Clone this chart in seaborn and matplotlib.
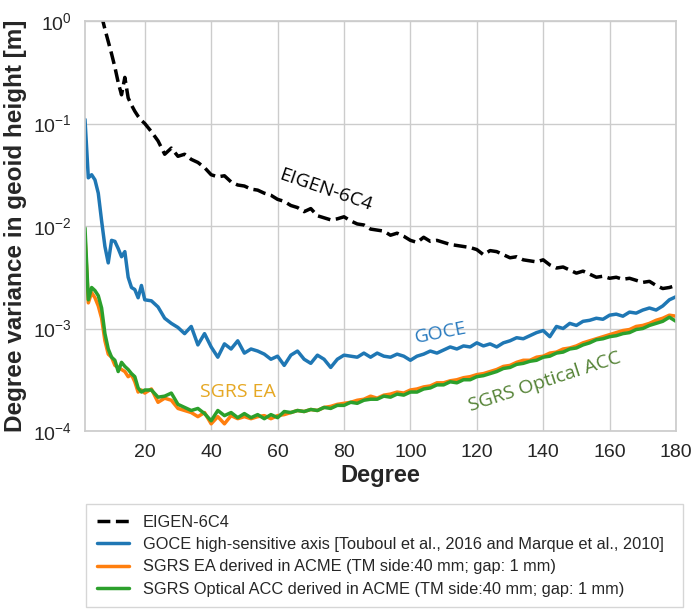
import numpy as np
import pandas as pd
import matplotlib
matplotlib.use("Agg")
import matplotlib.pyplot as plt
import seaborn as sns

# spherical harmonic degree (x axis)
degree = list(range(2, 21)) + list(range(22, 181, 2))

# log10 of degree variance [m]
eigen_log = [np.nan, np.nan, np.nan, np.nan, np.nan,
             0.05, -0.08, -0.20, -0.32, -0.45, -0.60, -0.72, -0.55, -0.75, -0.82, -0.88, -0.93, -0.97, -1.00,
             -1.08, -1.17, -1.30, -1.24, -1.32, -1.30, -1.35, -1.38, -1.43, -1.50,
             -1.52, -1.51, -1.57, -1.60, -1.61, -1.64, -1.65, -1.68, -1.70, -1.74,
             -1.76, -1.80, -1.82, -1.86, -1.83, -1.90, -1.92, -1.94, -1.93, -1.91,
             -1.95, -1.98, -1.99, -2.03, -2.04, -2.05, -2.09, -2.07, -2.10, -2.14,
             -2.16, -2.11, -2.15, -2.14, -2.16, -2.18, -2.19, -2.20, -2.21, -2.23,
             -2.28, -2.24, -2.25, -2.28, -2.31, -2.30, -2.33, -2.34, -2.35, -2.33,
             -2.38, -2.41, -2.40, -2.43, -2.46, -2.44, -2.47, -2.50, -2.49, -2.51,
             -2.50, -2.52, -2.51, -2.53, -2.55, -2.54, -2.58, -2.61, -2.60, -2.58]

goce_log = [-0.96, -1.53, -1.50, -1.55, -1.68, -1.95, -2.20, -2.36, -2.14, -2.15,
            -2.22, -2.30, -2.25, -2.50, -2.60, -2.62, -2.70, -2.58, -2.72,
            -2.73, -2.79, -2.90, -2.95, -2.99, -3.05, -2.98, -3.16, -3.05, -3.18,
            -3.28, -3.15, -3.20, -3.12, -3.24, -3.20, -3.22, -3.25, -3.30, -3.27,
            -3.36, -3.26, -3.22, -3.30, -3.34, -3.26, -3.30, -3.38, -3.30, -3.26,
            -3.27, -3.28, -3.24, -3.28, -3.24, -3.27, -3.28, -3.25, -3.27, -3.31,
            -3.27, -3.25, -3.22, -3.24, -3.21, -3.18, -3.20, -3.17, -3.18, -3.14,
            -3.17, -3.15, -3.18, -3.14, -3.12, -3.09, -3.10, -3.07, -3.04, -3.02,
            -3.08, -2.98, -3.00, -2.95, -2.97, -2.93, -2.92, -2.90, -2.91, -2.87,
            -2.86, -2.88, -2.84, -2.85, -2.82, -2.80, -2.82, -2.78, -2.72, -2.69]

ea_log = [-2.10, -2.75, -2.65, -2.70, -2.78, -2.90, -3.12, -3.25, -3.28, -3.36,
          -3.38, -3.40, -3.42, -3.47, -3.45, -3.52, -3.62, -3.60, -3.63,
          -3.59, -3.72, -3.68, -3.70, -3.78, -3.80, -3.82, -3.86, -3.82, -3.93,
          -3.86, -3.93, -3.85, -3.88, -3.86, -3.88, -3.86, -3.85, -3.88, -3.85,
          -3.84, -3.82, -3.80, -3.81, -3.79, -3.80, -3.77, -3.76, -3.74, -3.73,
          -3.72, -3.70, -3.69, -3.66, -3.68, -3.65, -3.64, -3.62, -3.63, -3.60,
          -3.59, -3.57, -3.56, -3.53, -3.53, -3.51, -3.50, -3.48, -3.47, -3.45,
          -3.44, -3.42, -3.40, -3.37, -3.36, -3.33, -3.31, -3.31, -3.28, -3.27,
          -3.24, -3.23, -3.20, -3.19, -3.17, -3.14, -3.12, -3.10, -3.08, -3.06,
          -3.04, -3.02, -3.01, -2.98, -2.97, -2.95, -2.92, -2.90, -2.87, -2.88]

optical_log = [-2.02, -2.72, -2.60, -2.63, -2.68, -2.80, -3.05, -3.20, -3.28, -3.31,
               -3.42, -3.33, -3.37, -3.40, -3.44, -3.47, -3.58, -3.62, -3.60,
               -3.60, -3.67, -3.66, -3.63, -3.74, -3.77, -3.80, -3.78, -3.83, -3.90,
               -3.80, -3.85, -3.82, -3.87, -3.83, -3.87, -3.84, -3.88, -3.84, -3.87,
               -3.81, -3.82, -3.80, -3.81, -3.79, -3.80, -3.77, -3.78, -3.75, -3.75,
               -3.72, -3.73, -3.70, -3.69, -3.69, -3.66, -3.67, -3.64, -3.65, -3.62,
               -3.62, -3.59, -3.58, -3.55, -3.55, -3.52, -3.53, -3.50, -3.50, -3.47,
               -3.46, -3.44, -3.42, -3.39, -3.38, -3.35, -3.34, -3.32, -3.31, -3.28,
               -3.27, -3.24, -3.23, -3.20, -3.19, -3.16, -3.14, -3.11, -3.10, -3.08,
               -3.07, -3.05, -3.04, -3.01, -3.00, -2.97, -2.95, -2.93, -2.89, -2.93]

labels = [
    "EIGEN-6C4",
    "GOCE high-sensitive axis [Touboul et al., 2016 and Marque et al., 2010]",
    "SGRS EA derived in ACME (TM side:40 mm; gap: 1 mm)",
    "SGRS Optical ACC derived in ACME (TM side:40 mm; gap: 1 mm)",
]
colors = ["black", "#1f77b4", "#ff7f0e", "#2ca02c"]

sns.set_theme(style="whitegrid")
plt.rcParams["font.family"] = ["Liberation Sans", "DejaVu Sans"]

fig = plt.figure(figsize=(6.93, 6.13), dpi=100)
ax = fig.add_axes([85 / 693, 1 - 431 / 613, 591 / 693, 410 / 613])

series = [eigen_log, goce_log, ea_log, optical_log]
for vals, lab, col in zip(series, labels, colors):
    df = pd.DataFrame({"degree": degree, "dv": 10.0 ** np.array(vals)})
    ls = "--" if lab == "EIGEN-6C4" else "-"
    sns.lineplot(data=df, x="degree", y="dv", ax=ax, color=col, label=lab,
                 linewidth=2.5, linestyle=ls)

ax.set_yscale("log")
ax.set_xlim(2, 180)
ax.set_ylim(1e-4, 1e0)
ax.set_xticks([20, 40, 60, 80, 100, 120, 140, 160, 180])
ax.minorticks_off()
ax.tick_params(labelsize=14, colors="#262626")
ax.set_xlabel("Degree", fontsize=17, fontweight="bold", labelpad=2)
ax.set_ylabel("Degree variance in geoid height [m]", fontsize=17.5, fontweight="bold", labelpad=4)

# curve annotations
anno = dict(family=["Open Sans", "DejaVu Sans"], fontsize=14, ha="center", va="center")
ax.text(74.5, 0.0224, "EIGEN-6C4", color="black", rotation=-19, **anno)
ax.text(109, 9.1e-4, "GOCE", color="#2a7bbf", rotation=11, **anno)
ax.text(48, 2.4e-4, "SGRS EA", color="#e6a824", rotation=0, **anno)
ax.text(140.5, 3.0e-4, "SGRS Optical ACC", color="#548235", rotation=18, **anno)

ax.legend_.remove()
handles, labs = ax.get_legend_handles_labels()
leg = fig.legend(handles, labs, loc="upper left", mode="expand",
                 bbox_to_anchor=(86 / 693, 0.0, 597 / 693, 1 - 504 / 613),
                 borderaxespad=0, fontsize=11.8, frameon=True, fancybox=False,
                 labelspacing=0.45, handlelength=2.0, handletextpad=0.8, borderpad=0.65)
leg.get_frame().set_edgecolor("#cccccc")

plt.savefig("out.png", dpi=100)
plt.close()
